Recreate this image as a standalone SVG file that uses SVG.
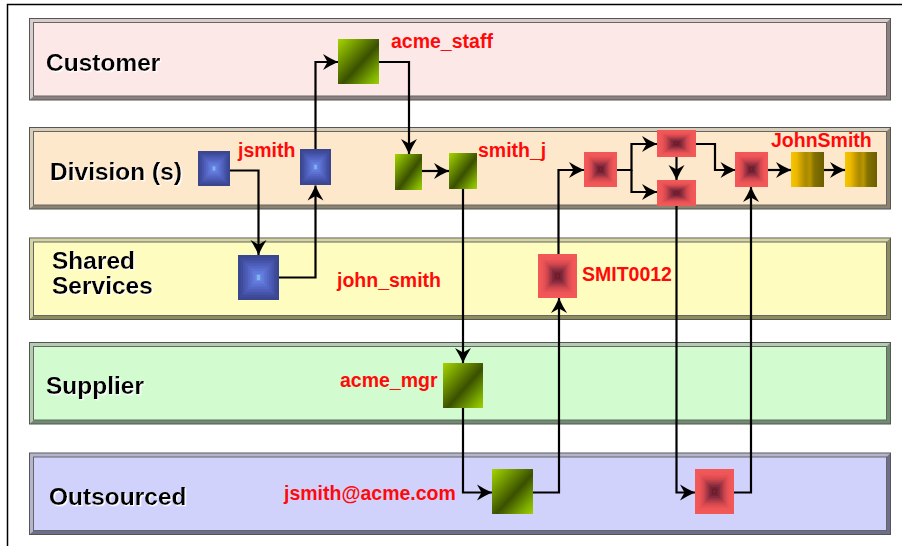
<svg xmlns="http://www.w3.org/2000/svg" xmlns:xlink="http://www.w3.org/1999/xlink" width="902" height="546" viewBox="0 0 902 546">
<style>
.lane-label{font-family:"Liberation Sans",Arial,sans-serif;font-weight:bold;font-size:24.5px;fill:#000;filter:url(#halo)}
.name{font-family:"Liberation Sans",Arial,sans-serif;font-weight:bold;font-size:19.5px;fill:#ff0a0a}
.edge{fill:none;stroke:#000;stroke-width:2.2;marker-end:url(#arr)}
.lane-line{stroke:#555;stroke-width:1}
</style>
<defs>
<filter id="halo" x="-5%" y="-20%" width="110%" height="140%">
<feDropShadow dx="1.3" dy="1.3" stdDeviation="0.5" flood-color="#ffffff" flood-opacity="1"/>
</filter>
<marker id="arr" markerUnits="userSpaceOnUse" orient="auto" viewBox="-16 -9 17 18" markerWidth="17" markerHeight="18" refX="0" refY="0">
<path d="M0,0 Q-8,-3.5 -15,-8 L-10.5,0 L-15,8 Q-8,3.5 0,0 Z" fill="#000"/>
</marker>
<linearGradient id="gGreen" x1="0" y1="0" x2="1" y2="1">
<stop offset="0" stop-color="#a6d400"/>
<stop offset="0.2" stop-color="#7fa800"/>
<stop offset="0.55" stop-color="#3a5000"/>
<stop offset="0.85" stop-color="#7eae00"/>
<stop offset="1" stop-color="#a0d000"/>
</linearGradient>
<linearGradient id="gGold" x1="0" y1="0" x2="1" y2="0">
<stop offset="0" stop-color="#f6c600"/>
<stop offset="0.18" stop-color="#eab800"/>
<stop offset="0.32" stop-color="#c89c00"/>
<stop offset="0.45" stop-color="#a88a00"/>
<stop offset="0.58" stop-color="#b89400"/>
<stop offset="0.7" stop-color="#847200"/>
<stop offset="1" stop-color="#6c5e00"/>
</linearGradient>
<symbol id="redPyr" viewBox="0 0 100 100" preserveAspectRatio="none">
<rect x="0" y="0" width="100" height="100" fill="#f25858"/>
<rect x="8" y="8" width="84" height="84" fill="#ee5657"/>
<rect x="14" y="14" width="72" height="72" fill="#e45053"/>
<rect x="19" y="19" width="62" height="62" fill="#d6494f"/>
<rect x="24" y="24" width="52" height="52" fill="#c2424b"/>
<rect x="28" y="28" width="44" height="44" fill="#ae3a47"/>
<rect x="32" y="32" width="36" height="36" fill="#983243"/>
<rect x="36" y="36" width="28" height="28" fill="#842b3d"/>
<rect x="40" y="40" width="20" height="20" fill="#742437"/>
<rect x="44" y="44" width="12" height="12" fill="#661e31"/>
<rect x="48" y="47" width="4" height="6" fill="#c01010"/>
</symbol>
<symbol id="bluePyr" viewBox="0 0 100 100" preserveAspectRatio="none">
<rect x="0" y="0" width="100" height="100" fill="#3a4690"/>
<rect x="6" y="6" width="88" height="88" fill="#3f4c9c"/>
<rect x="12" y="12" width="76" height="76" fill="#4654aa"/>
<rect x="18" y="18" width="64" height="64" fill="#4d5db8"/>
<rect x="24" y="24" width="52" height="52" fill="#5466c4"/>
<rect x="30" y="30" width="40" height="40" fill="#5b70d0"/>
<rect x="36" y="36" width="28" height="28" fill="#627ada"/>
<rect x="42" y="42" width="16" height="16" fill="#6a84e4"/>
<rect x="46" y="44" width="8" height="12" fill="#7cb8f0"/>
</symbol>
</defs>

<rect x="0" y="0" width="902" height="546" fill="#fff"/>
<path d="M7.5,546 V4.5 H902" fill="none" stroke="#000" stroke-width="1.5"/>

<g id="lane-customer">
<rect x="29.5" y="18.5" width="861" height="81.5" fill="#8c8080" class="lane-line"/>
<polygon points="30,19 890,19 886,23 34,23 34,96 30,99.5" fill="#d8cccc"/>
<rect x="33.5" y="22.5" width="853" height="73.5" fill="#fde8e8" stroke="#666" stroke-width="1"/>
<text class="lane-label" x="46" y="71">Customer</text>
</g>
<g id="lane-division">
<rect x="29.5" y="127.5" width="861" height="81.5" fill="#8c8270" class="lane-line"/>
<polygon points="30,128 890,128 886,132 34,132 34,205 30,208.5" fill="#d8cdb8"/>
<rect x="33.5" y="131.5" width="853" height="73.5" fill="#fde8cb" stroke="#666" stroke-width="1"/>
<text class="lane-label" x="50" y="180">Division (s)</text>
</g>
<g id="lane-shared">
<rect x="29.5" y="238" width="861" height="81.5" fill="#8c8c5c" class="lane-line"/>
<polygon points="30,238.5 890,238.5 886,242.5 34,242.5 34,315.5 30,319" fill="#d4d4a4"/>
<rect x="33.5" y="242" width="853" height="73.5" fill="#fefcbe" stroke="#666" stroke-width="1"/>
<text class="lane-label" x="52" y="269">Shared</text>
<text class="lane-label" x="52" y="294">Services</text>
</g>
<g id="lane-supplier">
<rect x="29.5" y="342.5" width="861" height="81.5" fill="#6e8c6e" class="lane-line"/>
<polygon points="30,343 890,343 886,347 34,347 34,420 30,423.5" fill="#b4ccb0"/>
<rect x="33.5" y="346.5" width="853" height="73.5" fill="#d2fcd0" stroke="#666" stroke-width="1"/>
<text class="lane-label" x="46" y="394">Supplier</text>
</g>
<g id="lane-outsourced">
<rect x="29.5" y="453" width="861" height="81.5" fill="#6e6e8c" class="lane-line"/>
<polygon points="30,453.5 890,453.5 886,457.5 34,457.5 34,530.5 30,534" fill="#b4b4cc"/>
<rect x="33.5" y="457" width="853" height="73.5" fill="#d0d2fc" stroke="#666" stroke-width="1"/>
<text class="lane-label" x="49" y="505">Outsourced</text>
</g>

<g id="connectors">
<path class="edge" d="M230,170.5 H258.5 V255"/>
<path class="edge" d="M279,277.5 H315.5 V185.5"/>
<path class="edge" d="M315.5,149 V62 H338"/>
<path class="edge" d="M379,62 H409 V154"/>
<path class="edge" d="M422,171 H449"/>
<path class="edge" d="M463,189 V363"/>
<path class="edge" d="M463,408 V492.5 H492"/>
<path class="edge" d="M533,492.5 H559 V298"/>
<path class="edge" d="M558.5,254 V170 H584"/>
<path class="edge" d="M617,170 H631.5 V144 H657"/>
<path class="edge" d="M631.5,170 V192 H657"/>
<path class="edge" d="M676.5,157 V180"/>
<path class="edge" d="M696,144 H715 V170 H735.5"/>
<path class="edge" d="M768,170 H791"/>
<path class="edge" d="M824,170 H845"/>
<path class="edge" d="M676.5,206 V492.5 H695"/>
<path class="edge" d="M734,492.5 H751 V187"/>
</g>

<g id="node-b1"><use xlink:href="#bluePyr" href="#bluePyr" x="198" y="151" width="32" height="35"/></g>
<g id="node-b2"><use xlink:href="#bluePyr" href="#bluePyr" x="300" y="149" width="31" height="36"/></g>
<g id="node-b3"><use xlink:href="#bluePyr" href="#bluePyr" x="238" y="255" width="41" height="45"/></g>
<g id="node-g1"><rect x="338" y="39" width="41" height="45" fill="url(#gGreen)"/></g>
<g id="node-g2"><rect x="395" y="154" width="27" height="36" fill="url(#gGreen)"/></g>
<g id="node-g3"><rect x="449" y="153" width="28" height="36" fill="url(#gGreen)"/></g>
<g id="node-g4"><rect x="443" y="363" width="40" height="45" fill="url(#gGreen)"/></g>
<g id="node-g5"><rect x="492" y="469" width="41" height="45" fill="url(#gGreen)"/></g>
<g id="node-r1"><use xlink:href="#redPyr" href="#redPyr" x="584" y="152" width="33" height="35"/></g>
<g id="node-r2"><use xlink:href="#redPyr" href="#redPyr" x="657" y="130" width="39" height="27"/></g>
<g id="node-r3"><use xlink:href="#redPyr" href="#redPyr" x="657" y="180" width="39" height="26"/></g>
<g id="node-r4"><use xlink:href="#redPyr" href="#redPyr" x="735" y="152" width="33" height="35"/></g>
<g id="node-r5"><use xlink:href="#redPyr" href="#redPyr" x="538" y="254" width="39" height="44"/></g>
<g id="node-r6"><use xlink:href="#redPyr" href="#redPyr" x="695" y="469" width="39" height="45"/></g>
<g id="node-y1"><rect x="791" y="152" width="33" height="35" fill="url(#gGold)"/></g>
<g id="node-y2"><rect x="845" y="152" width="32" height="35" fill="url(#gGold)"/></g>

<g id="labels">
<text class="name" x="391" y="48">acme_staff</text>
<text class="name" x="238" y="157">jsmith</text>
<text class="name" x="478" y="157">smith_j</text>
<text class="name" x="771" y="147">JohnSmith</text>
<text class="name" x="337" y="287">john_smith</text>
<text class="name" x="582" y="281">SMIT0012</text>
<text class="name" x="340" y="387">acme_mgr</text>
<text class="name" x="284" y="500">jsmith@acme.com</text>
</g>
</svg>
